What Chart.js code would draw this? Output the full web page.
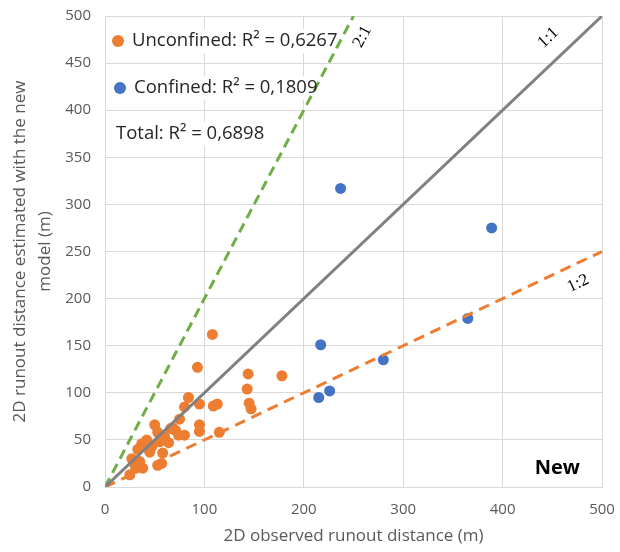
<!DOCTYPE html>
<html>
<head>
<meta charset="utf-8">
<script src="https://cdn.jsdelivr.net/npm/chart.js@4.4.0/dist/chart.umd.min.js"></script>
<style>
  html, body { margin: 0; padding: 0; background: #fff; }
</style>
</head>
<body>
<canvas id="runoutChart" width="620" height="552"></canvas>
<script>
// Unconfined events (orange)
const unconfinedX = [108, 93, 144, 178, 143, 84, 80, 95, 109, 113, 145, 147, 75, 50, 53, 71, 74, 80, 95, 95,
  115, 60, 64, 37, 47, 45, 58, 27, 35, 57, 53, 38, 31, 25, 68, 33, 42, 66, 30, 55];
const unconfinedY = [162, 127, 120, 118, 104, 95, 85, 88, 86, 88, 89, 83, 72, 66, 58, 60, 55, 55, 66, 59,
  58, 53, 47, 46, 43, 37, 36, 30, 27, 25, 23, 20, 20, 13, 63, 40, 50, 62, 24, 48];

// Confined events (blue)
const confinedX = [215, 217, 226, 237, 280, 365, 389];
const confinedY = [95, 151, 102, 317, 135, 179, 275];

// Reference lines
const lineX = [0, 500];
const line11Y = [0, 500];
const line21X = [0, 250];
const line21Y = [0, 500];
const line12Y = [0, 250];

const axisTicks = [0, 50, 100, 150, 200, 250, 300, 350, 400, 450, 500];

const toPoints = (xs, ys) => xs.map((v, i) => ({ x: v, y: ys[i] }));

const ORANGE = '#ED7D31';
const BLUE = '#4472C4';
const GREEN = '#70AD47';
const GRAY = '#808080';
const FONT = '"Open Sans", "Noto Sans", sans-serif';
const LEGEND_FONT = '18.5px ' + FONT;

// legend texts (drawn inside the plot area)
const legendEntries = [
  { text: 'Unconfined: R² = 0,6267', color: ORANGE, px: 118, py: 41 },
  { text: 'Confined: R² = 0,1809', color: BLUE, px: 120, py: 88 },
  { text: 'Total: R² = 0,6898', color: null, px: 116, py: 134 }
];

// ratio labels, placed in data units along each line
const ratioLabels = [
  { text: '2:1', ratio: 2, x: 259, y: 478 },
  { text: '1:1', ratio: 1, x: 446, y: 477 },
  { text: '1:2', ratio: 0.5, x: 476, y: 216 }
];

const overlayPlugin = {
  id: 'overlay',
  beforeDatasetsDraw(chart) {
    const ctx = chart.ctx;
    ctx.save();
    ctx.font = LEGEND_FONT;
    ctx.fillStyle = '#ffffff';
    legendEntries.forEach(e => {
      const left = e.color ? e.px - 8 : e.px - 2;
      const tx = e.color ? e.px + 14 : e.px;
      const w = ctx.measureText(e.text).width;
      ctx.fillRect(left, e.py - 12, tx - left + w + 2, 24);
    });
    ctx.restore();
  },
  afterDatasetsDraw(chart) {
    const { ctx, scales: { x, y } } = chart;
    ctx.save();
    ctx.font = LEGEND_FONT;
    ctx.textBaseline = 'middle';
    ctx.textAlign = 'left';
    legendEntries.forEach(e => {
      let tx = e.px;
      if (e.color) {
        ctx.fillStyle = e.color;
        ctx.beginPath();
        ctx.arc(e.px, e.py, 6, 0, Math.PI * 2);
        ctx.fill();
        tx = e.px + 14;
      }
      ctx.fillStyle = '#262626';
      ctx.fillText(e.text, tx, e.py);
    });

    ctx.font = '17px "Liberation Serif", serif';
    ctx.textAlign = 'center';
    ratioLabels.forEach(l => {
      const dx = x.getPixelForValue(100) - x.getPixelForValue(0);
      const dy = y.getPixelForValue(100 * l.ratio) - y.getPixelForValue(0);
      ctx.save();
      ctx.translate(x.getPixelForValue(l.x), y.getPixelForValue(l.y));
      ctx.rotate(Math.atan2(dy, dx));
      ctx.fillStyle = '#000000';
      ctx.fillText(l.text, 0, 0);
      ctx.restore();
    });

    ctx.font = 'bold 20px ' + FONT;
    ctx.fillStyle = '#000000';
    ctx.fillText('New', x.getPixelForValue(455), y.getPixelForValue(20));
    ctx.restore();
  }
};

const ctx = document.getElementById('runoutChart').getContext('2d');
const runoutChart = new Chart(ctx, {
  type: 'scatter',
  data: {
    datasets: [
      {
        label: '1:1',
        data: toPoints(lineX, line11Y),
        showLine: true,
        borderColor: GRAY,
        borderWidth: 3,
        pointRadius: 0
      },
      {
        label: '2:1',
        data: toPoints(line21X, line21Y),
        showLine: true,
        borderColor: GREEN,
        borderWidth: 3,
        borderDash: [10, 6],
        pointRadius: 0
      },
      {
        label: '1:2',
        data: toPoints(lineX, line12Y),
        showLine: true,
        borderColor: ORANGE,
        borderWidth: 3,
        borderDash: [11, 7],
        pointRadius: 0
      },
      {
        label: 'Confined',
        data: toPoints(confinedX, confinedY),
        backgroundColor: BLUE,
        borderColor: BLUE,
        pointRadius: 5.5,
        borderWidth: 0
      },
      {
        label: 'Unconfined',
        data: toPoints(unconfinedX, unconfinedY),
        backgroundColor: ORANGE,
        borderColor: ORANGE,
        pointRadius: 5.5,
        borderWidth: 0
      }
    ]
  },
  options: {
    responsive: false,
    animation: false,
    layout: { padding: { top: 16, right: 18, bottom: 0, left: 0 } },
    plugins: {
      legend: { display: false },
      tooltip: { enabled: false }
    },
    scales: {
      x: {
        type: 'linear',
        min: 0,
        max: 500,
        afterBuildTicks: scale => { scale.ticks = axisTicks.filter(v => v % 100 === 0).map(v => ({ value: v })); },
        afterFit: scale => {
          scale.height = 65;
          scale.paddingLeft = 0;
          scale.paddingRight = 0;
        },
        grid: { color: '#d9d9d9', drawTicks: false },
        border: { color: '#d9d9d9' },
        ticks: { color: '#595959', padding: 14, font: { family: FONT, size: 15 } },
        title: {
          display: true,
          text: '2D observed runout distance (m)',
          color: '#595959',
          padding: { top: 4, bottom: 6 },
          font: { family: FONT, size: 17 }
        }
      },
      y: {
        type: 'linear',
        min: 0,
        max: 500,
        afterBuildTicks: scale => { scale.ticks = axisTicks.map(v => ({ value: v })); },
        afterFit: scale => {
          scale.width = 105;
          scale.paddingTop = 0;
          scale.paddingBottom = 0;
        },
        grid: { color: '#d9d9d9', drawTicks: false },
        border: { color: '#d9d9d9' },
        ticks: { color: '#595959', padding: 14, font: { family: FONT, size: 15 } },
        title: {
          display: true,
          text: ['2D runout distance estimated with the new', 'model (m)'],
          color: '#595959',
          padding: { top: 8, bottom: 0 },
          font: { family: FONT, size: 17, lineHeight: 1.45 }
        }
      }
    }
  },
  plugins: [overlayPlugin]
});
</script>
</body>
</html>
